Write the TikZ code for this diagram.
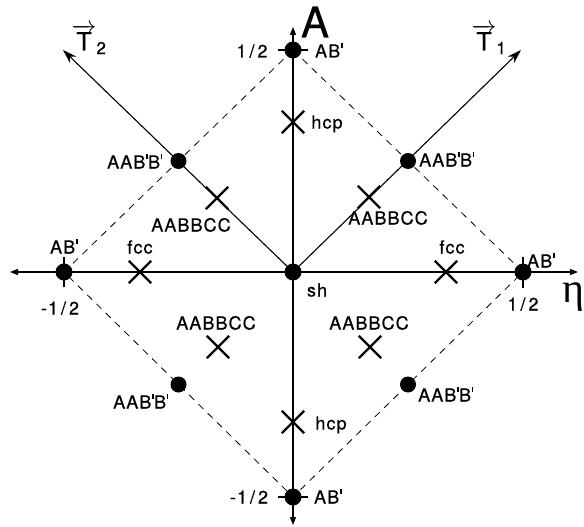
\documentclass[tikz,border=0pt]{standalone}
\usepackage{fontspec}
\setmainfont{TeX Gyre Heros}[LetterSpace=6, UprightFeatures={FakeBold=0.6}]
\newfontfamily\etafont{Liberation Serif}
\usetikzlibrary{arrows.meta,shapes.misc}
\newcommand{\pq}{\kern0.06em\rule[0.55em]{0.07em}{0.28em}\kern0.02em}
\begin{document}
\begin{tikzpicture}[x=1pt,y=-1pt,
  lab/.style={font=\fontsize{18}{18}\selectfont, inner sep=0pt, text height=13pt, text depth=0pt},
  dot/.style={circle, fill=black, inner sep=0pt, minimum size=17pt},
  smalldot/.style={circle, fill=black, inner sep=0pt, minimum size=16pt},
  xmark/.style={cross out, draw=black, line width=2.3pt, minimum size=20pt, inner sep=0pt},
  ax/.style={line width=1.1pt},
  dsh/.style={line width=0.8pt, dash pattern=on 7pt off 6pt},
  tick/.style={line width=1.8pt},
  axtip/.style={-{Triangle[length=8pt,width=6pt]}},
  ttip/.style={-{Stealth[length=14pt,width=9pt]}}]
\useasboundingbox (0,0) rectangle (584,527);
% axis end points
\coordinate (xl) at (10,272);
\coordinate (xr) at (578,272);
\coordinate (yt) at (293,27);
\coordinate (yb) at (293,525);
\coordinate (t1) at (521,50);
\coordinate (t2) at (63,50);
% main points
\coordinate (O) at (293,272);
\coordinate (top) at (293,50);
\coordinate (bot) at (293,497);
\coordinate (lft) at (64,272);
\coordinate (rgt) at (523,272);
% dashed diamond
\draw[dsh] (top) -- (rgt) -- (bot) -- (lft) -- cycle;
% axes
\draw[ax,axtip] (O) -- (xr);
\draw[ax,axtip] (O) -- (xl);
\draw[ax,axtip] (O) -- (yt);
\draw[ax,axtip] (O) -- (yb);
\draw[ax,ttip] (O) -- (t1);
\draw[ax,ttip] (O) -- (t2);
% ticks
\draw[tick] ([xshift=-15pt]top) -- ([xshift=15pt]top);
\draw[tick] ([xshift=-15pt]bot) -- ([xshift=15pt]bot);
\draw[tick] ([yshift=-15pt]lft) -- ([yshift=15pt]lft);
\draw[tick] ([yshift=-16pt]rgt) -- ([yshift=15pt]rgt);
% dots
\node[dot] (sh) at (O) {};
\node[dot] (dtop) at (top) {};
\node[dot] (dbot) at (bot) {};
\node[dot] (dlft) at (lft) {};
\node[dot] (drgt) at (rgt) {};
\node[smalldot] (dUL) at (178.5,161) {};
\node[smalldot] (dUR) at (408,161) {};
\node[smalldot] (dLL) at (178.5,384.5) {};
\node[smalldot] (dLR) at (408,384.5) {};
% crosses
\node[xmark] (hcpU) at (293,122) {};
\node[xmark] (hcpL) at (293,422) {};
\node[xmark] (fccL) at (140,272) {};
\node[xmark] (fccR) at (446,272) {};
\node[xmark] (cUL) at (217,198) {};
\node[xmark] (cUR) at (369,197) {};
\node[xmark] (cLL) at (218,347) {};
\node[xmark] (cLR) at (370,347) {};
% labels
\node[font=\fontsize{42}{42}\selectfont, inner sep=0pt] (lA) at (315,22) {A};
\node[font=\etafont\fontsize{42}{42}\selectfont, inner sep=0pt] (leta) at (573,297) {η};
\node[font=\fontsize{25}{25}\selectfont, inner sep=0pt] (lT1) at (489,39) {$\overrightarrow{\hbox{T}}_{\hbox{\fontsize{17}{17}\selectfont 1}}$};
\node[font=\fontsize{25}{25}\selectfont, inner sep=0pt] (lT2) at (89,39) {$\overrightarrow{\hbox{T}}_{\hbox{\fontsize{17}{17}\selectfont 2}}$};
\node[lab] (l12t) at (252,51) {1\,/\,2};
\node[lab] (lABt) at (329,51) {AB\pq};
\node[lab] (lhcpU) at (327,122) {hcp};
\node[lab] (lUL) at (135,162) {AAB\pq B\pq};
\node[lab] (lUR) at (447,160) {AAB\pq B\pq};
\node[lab] (lcUL) at (191,225) {AABBCC};
\node[lab] (lcUR) at (388,218) {AABBCC};
\node[lab] (lABl) at (64,247) {AB\pq};
\node[lab] (lfccL) at (140,247) {fcc};
\node[lab] (l12l) at (60,308) {-1\,/\,2};
\node[lab] (lcLL) at (216,323) {AABBCC};
\node[lab] (lsh) at (317,290) {sh};
\node[lab] (lfccR) at (452,247) {fcc};
\node[lab] (lABr) at (541,261) {AB\pq};
\node[lab] (l12r) at (523,304) {1\,/\,2};
\node[lab] (lcLR) at (369,323) {AABBCC};
\node[lab] (lLL) at (141,402) {AAB\pq B\pq};
\node[lab] (l12b) at (249,497) {-1\,/\,2};
\node[lab] (lhcpL) at (331,423) {hcp};
\node[lab] (lLR) at (446,395) {AAB\pq B\pq};
\node[lab] (lABb) at (328,497) {AB\pq};
\end{tikzpicture}
\end{document}
